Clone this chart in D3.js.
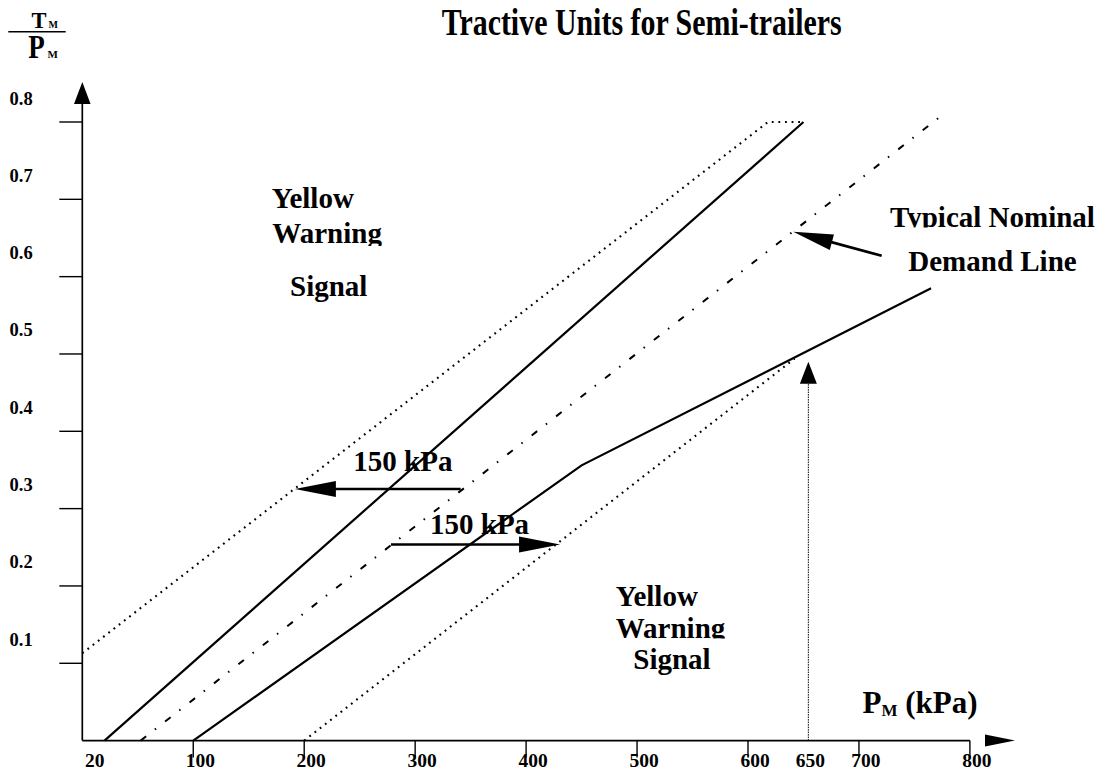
<!DOCTYPE html>
<html>
<head>
<meta charset="utf-8">
<script src="https://cdn.jsdelivr.net/npm/d3@7"></script>
<style>
html,body{margin:0;padding:0;background:#fff;}
svg text{font-family:"Liberation Serif","Times New Roman",serif;font-weight:bold;fill:#000;}
</style>
</head>
<body>
<svg id="chart" width="1108" height="774"></svg>
<script>
// ---------- data ----------
const xTickValues = [100, 200, 300, 400, 500, 600, 700, 800];
const xTickLabels = ["20", "100", "200", "300", "400", "500", "600", "650", "700", "800"];
const xLabelValues = [20, 100, 200, 300, 400, 500, 600, 650, 700, 800];
const yTickValues = [0.1, 0.2, 0.3, 0.4, 0.5, 0.6, 0.7, 0.8];
const yTickLabels = ["0.1", "0.2", "0.3", "0.4", "0.5", "0.6", "0.7", "0.8"];

// boundary lines  [P_M (kPa), T_M/P_M]
const upperSolid   = [[20, 0], [650, 0.8]];
const upperDotted  = [[0, 0.113], [618, 0.8], [650, 0.8]];
const demandLine   = [[52.6, 0], [771.5, 0.805]];
const lowerSolid   = [[100, 0], [450, 0.356], [765, 0.585]];
const lowerDotted  = [[200, 0], [642, 0.494]];
const refPressure  = 654.4;      // vertical dotted reference line
const refTop       = 0.49;

// annotation arrows [from, to]
const arrowUpper   = [[341, 0.3254], [191.6, 0.3254]];
const arrowLower   = [[278.2, 0.2536], [430.6, 0.2536]];
const arrowDemand  = [[720.5, 0.627], [640.8, 0.658]];

const titleText = "Tractive Units for Semi-trailers";
const shiftLabel = "150 kPa";
const yellowLines = ["Yellow", "Warning", "Signal"];
const demandLines = ["Typical Nominal", "Demand Line"];

// ---------- scales ----------
const svg = d3.select("#chart");
const x = d3.scaleLinear().domain([0, 800]).range([82.3, 969.9]);
const y = d3.scaleLinear().domain([0, 0.8]).range([740.6, 122]);

const line = d3.line().x(d => x(d[0])).y(d => y(d[1]));

// ---------- helpers ----------
function arrowHead(g, tip, dirx, diry, L, W) {
  const n = Math.hypot(dirx, diry); const ux = dirx / n, uy = diry / n;
  const bx = tip[0] - ux * L, by = tip[1] - uy * L;
  const px = -uy, py = ux;
  g.append("path")
    .attr("d", `M${tip[0]},${tip[1]}L${bx + px * W},${by + py * W}L${bx - px * W},${by - py * W}Z`)
    .attr("fill", "#000");
  return [bx, by];
}
function dataArrow(pair, L, W, sw) {
  const p0 = [x(pair[0][0]), y(pair[0][1])];
  const p1 = [x(pair[1][0]), y(pair[1][1])];
  const g = svg.append("g");
  const base = arrowHead(g, p1, p1[0] - p0[0], p1[1] - p0[1], L, W);
  g.insert("line", "path").attr("x1", p0[0]).attr("y1", p0[1]).attr("x2", base[0] + (p1[0]-base[0])*0.3).attr("y2", base[1] + (p1[1]-base[1])*0.3)
    .attr("stroke", "#000").attr("stroke-width", sw);
}
let clipId = 0;
function label(tx, ty, str, size, clipBottom) {
  const t = svg.append("text").attr("x", tx).attr("y", ty).attr("font-size", size).text(str);
  if (clipBottom !== undefined) {
    const id = "clip" + (clipId++);
    svg.append("clipPath").attr("id", id).append("rect")
      .attr("x", 0).attr("y", 0).attr("width", 1108).attr("height", clipBottom);
    t.attr("clip-path", `url(#${id})`);
  }
  return t;
}

// ---------- axes ----------
// y axis
svg.append("line").attr("x1", x(0)).attr("x2", x(0)).attr("y1", y(0)).attr("y2", 100)
  .attr("stroke", "#000").attr("stroke-width", 1.7);
arrowHead(svg, [x(0), 82], 0, -1, 22, 8.3);
svg.selectAll(".ytick").data(yTickValues).enter().append("line")
  .attr("x1", x(0) - 23).attr("x2", x(0)).attr("y1", d => y(d)).attr("y2", d => y(d))
  .attr("stroke", "#000").attr("stroke-width", 1.4);
svg.selectAll(".ylab").data(yTickValues).enter().append("text")
  .attr("x", 9.5).attr("y", d => y(d) - 17.5).attr("font-size", 18.5)
  .text((d, i) => yTickLabels[i]);

// x axis
svg.append("line").attr("x1", x(0)).attr("x2", x(800)).attr("y1", y(0)).attr("y2", y(0))
  .attr("stroke", "#000").attr("stroke-width", 1.7);
arrowHead(svg, [1015, y(0)], 1, 0, 30, 6);
svg.selectAll(".xtick").data(xTickValues).enter().append("line")
  .attr("x1", d => x(d)).attr("x2", d => x(d)).attr("y1", y(0)).attr("y2", y(0) + 17)
  .attr("stroke", "#000").attr("stroke-width", 1.4);
svg.selectAll(".xlab").data(xLabelValues).enter().append("text")
  .attr("x", d => d === 20 ? x(d) : x(d) + 7)
  .attr("text-anchor", d => d === 20 ? "end" : "middle")
  .attr("y", 767).attr("font-size", 19.5)
  .text((d, i) => xTickLabels[i]);

// ---------- lines ----------
svg.append("path").attr("d", line(upperSolid)).attr("fill", "none")
  .attr("stroke", "#000").attr("stroke-width", 2.2);
svg.append("path").attr("d", line(lowerSolid)).attr("fill", "none")
  .attr("stroke", "#000").attr("stroke-width", 2.2);
svg.append("path").attr("d", line(upperDotted)).attr("fill", "none")
  .attr("stroke", "#000").attr("stroke-width", 2.1).attr("stroke-dasharray", "1.8,4.8");
svg.append("path").attr("d", line(lowerDotted)).attr("fill", "none")
  .attr("stroke", "#000").attr("stroke-width", 2.1).attr("stroke-dasharray", "1.8,4.8");
svg.append("path").attr("d", line(demandLine)).attr("fill", "none")
  .attr("stroke", "#000").attr("stroke-width", 2).attr("stroke-dasharray", "7,11,1.5,11.5");

// vertical reference line with arrow
{
  const tipY = y(refTop);
  svg.append("line").attr("x1", x(refPressure)).attr("x2", x(refPressure))
    .attr("y1", y(0)).attr("y2", tipY + 22)
    .attr("stroke", "#000").attr("stroke-width", 1).attr("stroke-dasharray", "1.5,1");
  arrowHead(svg, [x(refPressure), tipY], 0, -1, 22, 8.5);
}

// annotation arrows
dataArrow(arrowUpper, 41, 8, 2.7);
dataArrow(arrowLower, 41, 8, 2.7);
dataArrow(arrowDemand, 40, 8, 2.7);

// ---------- texts ----------
label(441.7, 35, titleText, 38).attr("textLength", 400).attr("lengthAdjust", "spacingAndGlyphs");

// y-axis title T_M / P_M
label(31.5, 28.3, "T", 23).attr("textLength", 15).attr("lengthAdjust", "spacingAndGlyphs");
label(48.5, 28.3, "M", 10);
svg.append("line").attr("x1", 8.3).attr("x2", 65.7).attr("y1", 31.7).attr("y2", 31.7)
  .attr("stroke", "#000").attr("stroke-width", 1.5);
label(28.3, 58.3, "P", 34).attr("textLength", 16.5).attr("lengthAdjust", "spacingAndGlyphs");
label(47.5, 58.3, "M", 11);

// x-axis title
{
  const t = svg.append("text").attr("x", 862.5).attr("y", 713).attr("font-size", 31);
  t.append("tspan").text("P");
  t.append("tspan").attr("font-size", 17).attr("dy", 3).text("M");
  t.append("tspan").attr("dy", -3).text(" (kPa)");
}

label(353.3, 471, shiftLabel, 29);
label(430, 533.5, shiftLabel, 29);

label(271.7, 208, yellowLines[0], 29);
label(272.3, 242.5, yellowLines[1], 29, 246);
label(290, 296, yellowLines[2], 29);

label(615.7, 606, yellowLines[0], 29);
label(615.7, 637.5, yellowLines[1], 29, 638.5);
label(633.3, 668.5, yellowLines[2], 29);

label(890, 226.5, demandLines[0], 29, 227.5);
label(908.3, 270.5, demandLines[1], 29);
</script>
</body>
</html>
